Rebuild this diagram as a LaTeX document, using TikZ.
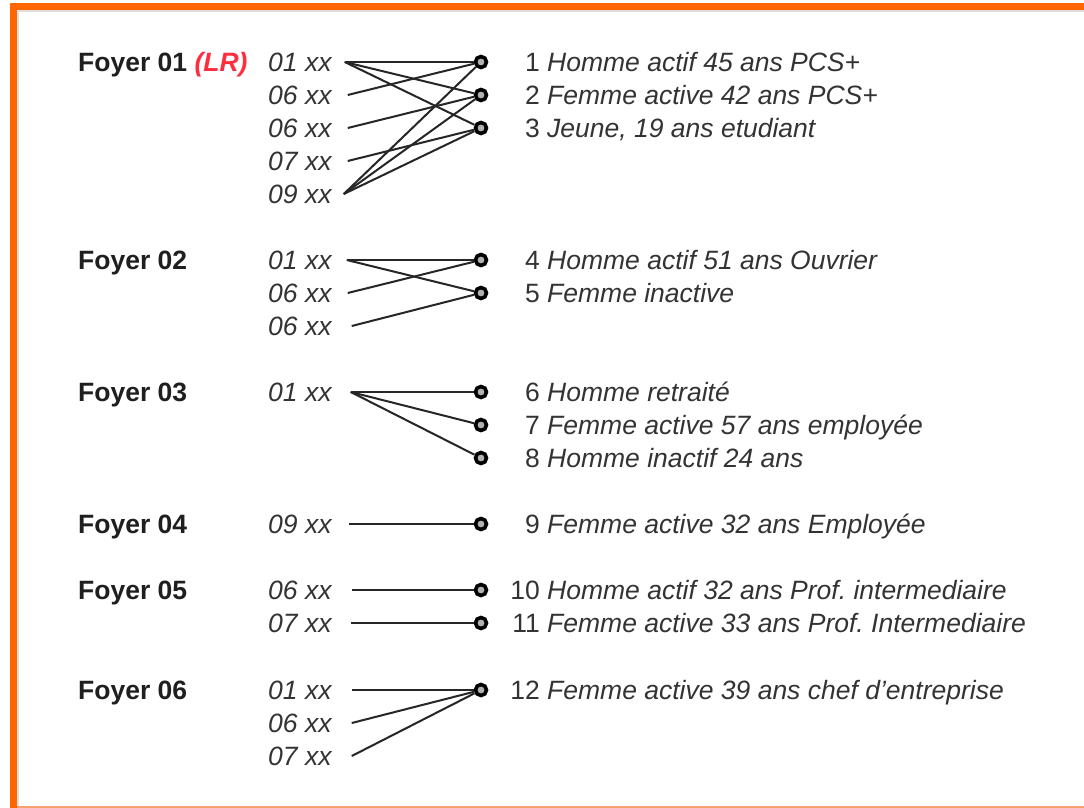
\documentclass[tikz,border=0pt]{standalone}
\usepackage{fontspec}
\setmainfont{Liberation Sans}
\usetikzlibrary{positioning}

\definecolor{frame}{HTML}{FF6600}
\definecolor{frameline}{HTML}{F7A26E}
\definecolor{ink}{HTML}{333333}
\definecolor{lrred}{HTML}{FF2E3F}
\newcommand\txtsize{\fontsize{26.5}{30}\selectfont}

\tikzset{
  foyer/.style={anchor=west,inner sep=0,text height=19pt,text depth=0pt,font=\txtsize\bfseries,text=ink!60!black},
  tel/.style={anchor=west,inner sep=0,text height=19pt,text depth=0pt,font=\txtsize\itshape,text=ink},
  pers/.style={circle,draw=black,fill=gray!60,line width=3.6pt,minimum size=11pt,inner sep=0},
  num/.style={anchor=east,inner sep=0,text height=19pt,text depth=0pt,font=\txtsize,text=ink},
  desc/.style={right=7pt of #1,inner sep=0,text height=19pt,text depth=0pt,font=\txtsize\itshape,text=ink},
  link/.style={line width=2pt,draw=ink!75!black}
}

\begin{document}
\begin{tikzpicture}[x=1pt,y=-1pt]
\useasboundingbox[fill=white] (0,0) rectangle (1084,808);
\fill[frame] (10,3) rectangle (1084,10);
\fill[frame] (10,3) rectangle (17,808);
\draw[gray!25,line width=1.5pt] (17,11) -- (1084,11);
\draw[gray!25,line width=1.5pt] (18,10) -- (18,806);
\draw[frameline,line width=2pt] (17,807) -- (1084,807);

\node[foyer] (foy1) at (78,62) {Foyer 01 \textcolor{lrred}{\itshape(LR)}};
\node[foyer] (foy2) at (78,260) {Foyer 02};
\node[foyer] (foy3) at (78,392) {Foyer 03};
\node[foyer] (foy4) at (78,524) {Foyer 04};
\node[foyer] (foy5) at (78,590) {Foyer 05};
\node[foyer] (foy6) at (78,690) {Foyer 06};

\node[tel] (tel1a) at (268,62) {01 xx};
\node[tel] (tel1b) at (268,95) {06 xx};
\node[tel] (tel1c) at (268,128) {06 xx};
\node[tel] (tel1d) at (268,161) {07 xx};
\node[tel] (tel1e) at (268,194) {09 xx};
\node[tel] (tel2a) at (268,260) {01 xx};
\node[tel] (tel2b) at (268,293) {06 xx};
\node[tel] (tel2c) at (268,326) {06 xx};
\node[tel] (tel3a) at (268,392) {01 xx};
\node[tel] (tel4a) at (268,524) {09 xx};
\node[tel] (tel5a) at (268,590) {06 xx};
\node[tel] (tel5b) at (268,623) {07 xx};
\node[tel] (tel6a) at (268,690) {01 xx};
\node[tel] (tel6b) at (268,723) {06 xx};
\node[tel] (tel6c) at (268,756) {07 xx};

\node[pers] (p1) at (481,62) {};
\node[pers] (p2) at (481,95) {};
\node[pers] (p3) at (481,128) {};
\node[pers] (p4) at (481,260) {};
\node[pers] (p5) at (481,293) {};
\node[pers] (p6) at (481,392) {};
\node[pers] (p7) at (481,425) {};
\node[pers] (p8) at (481,458) {};
\node[pers] (p9) at (481,524) {};
\node[pers] (p10) at (481,590) {};
\node[pers] (p11) at (481,623) {};
\node[pers] (p12) at (481,690) {};

\node[num] (n1) at (540,62) {1};
\node[desc=n1] (d1) {Homme actif 45 ans PCS+};
\node[num] (n2) at (540,95) {2};
\node[desc=n2] (d2) {Femme active 42 ans PCS+};
\node[num] (n3) at (540,128) {3};
\node[desc=n3] (d3) {Jeune, 19 ans etudiant};
\node[num] (n4) at (540,260) {4};
\node[desc=n4] (d4) {Homme actif 51 ans Ouvrier};
\node[num] (n5) at (540,293) {5};
\node[desc=n5] (d5) {Femme inactive};
\node[num] (n6) at (540,392) {6};
\node[desc=n6] (d6) {Homme retraité};
\node[num] (n7) at (540,425) {7};
\node[desc=n7] (d7) {Femme active 57 ans employée};
\node[num] (n8) at (540,458) {8};
\node[desc=n8] (d8) {Homme inactif 24 ans};
\node[num] (n9) at (540,524) {9};
\node[desc=n9] (d9) {Femme active 32 ans Employée};
\node[num] (n10) at (540,590) {10};
\node[desc=n10] (d10) {Homme actif 32 ans Prof.\ intermediaire};
\node[num] (n11) at (540,623) {11};
\node[desc=n11] (d11) {Femme active 33 ans Prof.\ Intermediaire};
\node[num] (n12) at (540,690) {12};
\node[desc=n12] (d12) {Femme active 39 ans chef d'entreprise};

\draw[link] ([xshift=13pt]tel1a.east) -- (p1);
\draw[link] ([xshift=13pt]tel1a.east) -- (p2);
\draw[link] ([xshift=13pt]tel1a.east) -- (p3);
\draw[link] ([xshift=16pt]tel1b.east) -- (p1);
\draw[link] ([xshift=16pt]tel1c.east) -- (p2);
\draw[link] ([xshift=16pt]tel1d.east) -- (p3);
\draw[link] ([xshift=12pt]tel1e.east) -- (p1);
\draw[link] ([xshift=12pt]tel1e.east) -- (p2);
\draw[link] ([xshift=12pt]tel1e.east) -- (p3);
\draw[link] ([xshift=15pt]tel2a.east) -- (p4);
\draw[link] ([xshift=15pt]tel2a.east) -- (p5);
\draw[link] ([xshift=16pt]tel2b.east) -- (p4);
\draw[link] ([xshift=20pt]tel2c.east) -- (p5);
\draw[link] ([xshift=19pt]tel3a.east) -- (p6);
\draw[link] ([xshift=19pt]tel3a.east) -- (p7);
\draw[link] ([xshift=19pt]tel3a.east) -- (p8);
\draw[link] ([xshift=17pt]tel4a.east) -- (p9);
\draw[link] ([xshift=20pt]tel5a.east) -- (p10);
\draw[link] ([xshift=19pt]tel5b.east) -- (p11);
\draw[link] ([xshift=20pt]tel6a.east) -- (p12);
\draw[link] ([xshift=20pt]tel6b.east) -- (p12);
\draw[link] ([xshift=20pt]tel6c.east) -- (p12);
\end{tikzpicture}
\end{document}
